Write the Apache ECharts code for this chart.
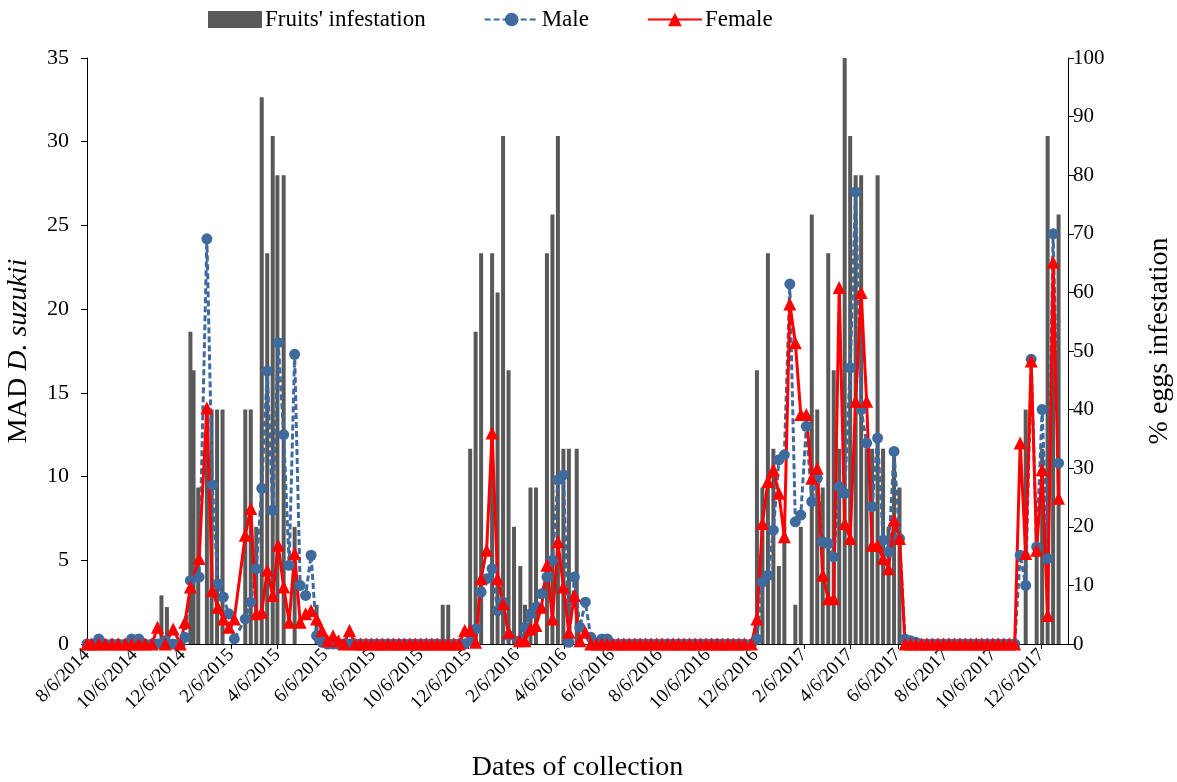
<!DOCTYPE html>
<html>
<head>
<meta charset="utf-8">
<script src="https://cdn.jsdelivr.net/npm/echarts@6/dist/echarts.min.js"></script>
<style>
  html, body { margin: 0; padding: 0; background: #fff; }
  #chart { width: 1177px; height: 782px; }
</style>
</head>
<body>
<div id="chart"></div>
<script>
  // trap collections (MAD = mean adults per trap per day)
  const trapDates = [
    '2014-08-06', '2014-08-12', '2014-08-21', '2014-08-29', '2014-09-07', '2014-09-15', '2014-09-24',
    '2014-10-02', '2014-10-11', '2014-10-19', '2014-10-28', '2014-11-04', '2014-11-14', '2014-11-24',
    '2014-12-03', '2014-12-09', '2014-12-16', '2014-12-27', '2015-01-06', '2015-01-13', '2015-01-20',
    '2015-01-27', '2015-02-03', '2015-02-10', '2015-02-24', '2015-03-03', '2015-03-10', '2015-03-17',
    '2015-03-24', '2015-03-31', '2015-04-07', '2015-04-14', '2015-04-21', '2015-04-28', '2015-05-05',
    '2015-05-12', '2015-05-19', '2015-05-26', '2015-06-02', '2015-06-09', '2015-06-16', '2015-06-23',
    '2015-06-30', '2015-07-07',
    '2015-07-14', '2015-07-21', '2015-07-28', '2015-08-04', '2015-08-11', '2015-08-18', '2015-08-25',
    '2015-09-01', '2015-09-08', '2015-09-15', '2015-09-22', '2015-09-29', '2015-10-06', '2015-10-13',
    '2015-10-20', '2015-10-27', '2015-11-03', '2015-11-10', '2015-11-17', '2015-11-24',
    '2015-12-01', '2015-12-08', '2015-12-15', '2015-12-22', '2015-12-29', '2016-01-05', '2016-01-12',
    '2016-01-19', '2016-01-26', '2016-02-09', '2016-02-16', '2016-02-23', '2016-03-01', '2016-03-08',
    '2016-03-15', '2016-03-22', '2016-03-29', '2016-04-05', '2016-04-12', '2016-04-19', '2016-04-26',
    '2016-05-03', '2016-05-10', '2016-05-17', '2016-05-24', '2016-05-31',
    '2016-06-07', '2016-06-14', '2016-06-21', '2016-06-28', '2016-07-05', '2016-07-12', '2016-07-19',
    '2016-07-26', '2016-08-02', '2016-08-09', '2016-08-16', '2016-08-23', '2016-08-30', '2016-09-06',
    '2016-09-13', '2016-09-20', '2016-09-27', '2016-10-04', '2016-10-11', '2016-10-18', '2016-10-25',
    '2016-11-01', '2016-11-08', '2016-11-15', '2016-11-22',
    '2016-12-01', '2016-12-08', '2016-12-15', '2016-12-22', '2016-12-29', '2017-01-05', '2017-01-12',
    '2017-01-19', '2017-01-26', '2017-02-02', '2017-02-09', '2017-02-16', '2017-02-23', '2017-03-02',
    '2017-03-09', '2017-03-16', '2017-03-23', '2017-03-30', '2017-04-06', '2017-04-13', '2017-04-20',
    '2017-04-27', '2017-05-04', '2017-05-11', '2017-05-18', '2017-05-25', '2017-06-01', '2017-06-08',
    '2017-06-15', '2017-06-22', '2017-06-29',
    '2017-07-06', '2017-07-13', '2017-07-20', '2017-07-27', '2017-08-03', '2017-08-10', '2017-08-17',
    '2017-08-24', '2017-08-31', '2017-09-07', '2017-09-14', '2017-09-21', '2017-09-28', '2017-10-05',
    '2017-10-12', '2017-10-19', '2017-10-26', '2017-11-02',
    '2017-11-09', '2017-11-16', '2017-11-23', '2017-11-30', '2017-12-07', '2017-12-14', '2017-12-21',
    '2017-12-28'
  ]

  const male = [
    0, 0, 0.3, 0, 0, 0, 0,
    0.3, 0.3, 0, 0, 0, 0.2, 0,
    0, 0.4, 3.8, 4.0, 24.2, 9.5, 3.6,
    2.8, 1.8, 0.3, 1.5, 2.5, 4.5, 9.3,
    16.3, 8.0, 18.0, 12.5, 4.7, 17.3, 3.5,
    2.9, 5.3, 0.5, 0.1, 0, 0, 0,
    0, 0,
    0, 0, 0, 0, 0, 0, 0,
    0, 0, 0, 0, 0, 0, 0,
    0, 0, 0, 0, 0, 0,
    0, 0.2, 0.9, 3.1, 3.9, 4.5, 2.0,
    2.5, 0.5, 0.2, 1.0, 1.8, 2.2, 3.0,
    4.0, 5.0, 9.8, 10.1, 0.1, 4.0, 1.0,
    2.5, 0.4, 0, 0.3, 0.3,
    0, 0, 0, 0, 0, 0, 0,
    0, 0, 0, 0, 0, 0, 0,
    0, 0, 0, 0, 0, 0, 0,
    0, 0, 0, 0,
    0, 0.3, 3.7, 4.1, 6.8, 11.0, 11.3,
    21.5, 7.3, 7.7, 13.0, 8.5, 9.9, 6.1,
    6.0, 5.2, 9.4, 9.0, 16.5, 27.0, 14.0,
    12.0, 8.2, 12.3, 6.2, 5.5, 11.5, 6.3,
    0.3, 0.2, 0.1,
    0, 0, 0, 0, 0, 0, 0,
    0, 0, 0, 0, 0, 0, 0,
    0, 0, 0, 0,
    5.3, 3.5, 17.0, 5.8, 14.0, 5.1, 24.5,
    10.8
  ]

  const female = [
    0, 0, 0, 0, 0, 0, 0,
    0, 0, 0, 0, 1.0, 0, 0.9,
    0, 1.3, 3.4, 5.1, 14.1, 3.2, 2.2,
    1.5, 1.0, 1.5, 6.5, 8.1, 1.8, 1.9,
    4.4, 2.9, 5.9, 3.4, 1.3, 5.4, 1.3,
    1.8, 2.0, 1.5, 0.8, 0.2, 0.5, 0.2,
    0, 0.8,
    0, 0, 0, 0, 0, 0, 0,
    0, 0, 0, 0, 0, 0, 0,
    0, 0, 0, 0, 0, 0,
    0.8, 0.8, 0.1, 3.9, 5.6, 12.6, 3.9,
    2.4, 0.7, 0.2, 0.2, 0.9, 1.1, 2.2,
    4.7, 1.5, 6.1, 3.4, 0.7, 2.9, 0.2,
    0.7, 0, 0, 0, 0,
    0, 0, 0, 0, 0, 0, 0,
    0, 0, 0, 0, 0, 0, 0,
    0, 0, 0, 0, 0, 0, 0,
    0, 0, 0, 0,
    0, 1.5, 7.2, 9.7, 10.4, 9.0, 6.4,
    20.3, 18.0, 13.7, 13.7, 9.9, 10.5, 4.1,
    2.7, 2.7, 21.3, 7.2, 6.3, 14.5, 21.0,
    14.5, 5.9, 5.9, 5.1, 4.5, 7.4, 6.3,
    0, 0, 0,
    0, 0, 0, 0, 0, 0, 0,
    0, 0, 0, 0, 0, 0, 0,
    0, 0, 0, 0,
    12.0, 5.4, 16.9, 5.6, 10.4, 1.7, 22.8,
    8.7
  ]

  // fruit samples (% eggs infestation)
  const fruitDates = [
    '2014-11-09', '2014-11-16', '2014-12-16', '2014-12-20', '2014-12-26', '2015-01-06', '2015-01-12',
    '2015-01-19', '2015-01-26', '2015-02-24', '2015-03-03', '2015-03-10', '2015-03-17', '2015-03-24',
    '2015-03-31', '2015-04-06', '2015-04-14', '2015-04-28', '2015-05-26',
    '2015-11-03', '2015-11-10', '2015-12-08', '2015-12-15', '2015-12-22', '2016-01-05', '2016-01-12',
    '2016-01-19', '2016-01-26', '2016-02-02', '2016-02-10', '2016-02-16', '2016-02-23', '2016-03-01',
    '2016-03-15', '2016-03-22', '2016-03-29', '2016-04-05', '2016-04-12', '2016-04-22',
    '2016-12-08', '2016-12-15', '2016-12-22', '2016-12-29', '2017-01-05', '2017-01-12', '2017-01-26',
    '2017-02-02', '2017-02-16', '2017-02-23', '2017-03-02', '2017-03-09', '2017-03-16', '2017-03-23',
    '2017-03-30', '2017-04-06', '2017-04-13', '2017-04-20', '2017-04-27', '2017-05-04', '2017-05-11',
    '2017-05-18', '2017-05-25', '2017-06-01', '2017-06-08',
    '2017-11-16', '2017-11-30', '2017-12-07', '2017-12-14', '2017-12-21', '2017-12-28'
  ]

  const fruitInfestation = [
    8.3, 6.3, 53.3, 46.7, 26.7, 40, 40,
    40, 40, 40, 40, 20, 93.3, 66.7,
    86.7, 80, 80, 20, 6.7,
    6.7, 6.7, 33.3, 53.3, 66.7, 66.7, 60,
    86.7, 46.7, 20, 13.3, 6.7, 26.7, 26.7,
    66.7, 73.3, 86.7, 33.3, 33.3, 33.3,
    46.7, 26.7, 66.7, 33.3, 13.3, 20, 6.7,
    20, 73.3, 40, 26.7, 66.7, 46.7, 33.3,
    100, 86.7, 80, 80, 33.3, 33.3, 80,
    33.3, 20, 33.3, 26.7,
    40, 20, 33.3, 86.7, 60, 73.3
  ]

  const tickLabels = [
    '8/6/2014', '10/6/2014', '12/6/2014', '2/6/2015', '4/6/2015', '6/6/2015', '8/6/2015',
    '10/6/2015', '12/6/2015', '2/6/2016', '4/6/2016', '6/6/2016', '8/6/2016', '10/6/2016',
    '12/6/2016', '2/6/2017', '4/6/2017', '6/6/2017', '8/6/2017', '10/6/2017', '12/6/2017'
  ]

  const font = 'Liberation Serif'

  function isoTime(s) {
    const p = s.split('-').map(Number)
    return new Date(p[0], p[1] - 1, p[2]).getTime()
  }
  function usTime(s) {
    const p = s.split('/').map(Number)
    return new Date(p[2], p[0] - 1, p[1]).getTime()
  }

  const tickValues = tickLabels.map(usTime)

  const chart = echarts.init(document.getElementById('chart'))
  chart.setOption({
    animation: false,
    textStyle: { fontFamily: font, color: '#000' },
    legend: {
      top: 3,
      left: 203,
      itemGap: 58,
      itemWidth: 54,
      itemHeight: 17,
      textStyle: { fontFamily: font, fontSize: 23, color: '#000', padding: [0, 0, 0, -2] },
      data: [
        { name: "Fruits' infestation", icon: 'rect' },
        { name: 'Male' },
        { name: 'Female' }
      ]
    },
    grid: {
      left: 87,
      right: 109,
      top: 58,
      bottom: 138,
      outerBoundsMode: 'none'
    },
    xAxis: {
      type: 'value',
      min: isoTime('2014-08-06'),
      max: isoTime('2018-01-09'),
      name: 'Dates of collection',
      nameLocation: 'middle',
      nameGap: 110,
      nameTextStyle: { fontFamily: font, fontSize: 28, color: '#000' },
      axisLine: { show: true, onZero: false, lineStyle: { color: '#000', width: 1 } },
      axisTick: {
        show: true,
        customValues: tickValues,
        length: 5,
        lineStyle: { color: '#000' }
      },
      axisLabel: {
        customValues: tickValues,
        rotate: 45,
        margin: 8,
        fontFamily: font,
        fontSize: 19,
        color: '#000',
        formatter: v => tickLabels[tickValues.indexOf(v)] || ''
      },
      splitLine: { show: false }
    },
    yAxis: [
      {
        type: 'value',
        position: 'left',
        min: 0,
        max: 35,
        interval: 5,
        name: '{a|MAD }{b|D. suzukii}',
        nameLocation: 'middle',
        nameGap: 54,
        nameTextStyle: {
          fontFamily: font,
          fontSize: 28,
          color: '#000',
          rich: {
            a: { fontFamily: font, fontSize: 28, color: '#000' },
            b: { fontFamily: font, fontSize: 28, color: '#000', fontStyle: 'italic' }
          }
        },
        axisLine: { show: true, lineStyle: { color: '#000', width: 1 } },
        axisTick: { show: true, length: 6, lineStyle: { color: '#000' } },
        axisLabel: { fontFamily: font, fontSize: 22, color: '#000', margin: 18 },
        splitLine: { show: false }
      },
      {
        type: 'value',
        position: 'right',
        min: 0,
        max: 100,
        interval: 10,
        name: '% eggs infestation',
        nameLocation: 'middle',
        nameGap: 78,
        nameTextStyle: { fontFamily: font, fontSize: 28, color: '#000', padding: [0, 0, 0, 20] },
        axisLine: { show: true, lineStyle: { color: '#000', width: 1 } },
        axisTick: { show: true, length: 6, lineStyle: { color: '#000' } },
        axisLabel: { fontFamily: font, fontSize: 21, color: '#000', margin: 5 },
        splitLine: { show: false }
      }
    ],
    series: [
      {
        name: "Fruits' infestation",
        type: 'bar',
        yAxisIndex: 1,
        barWidth: 4,
        itemStyle: { color: '#595959' },
        data: fruitDates.map((d, i) => [isoTime(d), fruitInfestation[i]])
      },
      {
        name: 'Male',
        type: 'line',
        yAxisIndex: 0,
        symbol: 'circle',
        symbolSize: 11,
        itemStyle: { color: '#3E6A9E' },
        lineStyle: { color: '#3E6A9E', width: 3, type: [6, 3] },
        data: trapDates.map((d, i) => [isoTime(d), male[i]])
      },
      {
        name: 'Female',
        type: 'line',
        yAxisIndex: 0,
        symbol: 'triangle',
        symbolSize: 13,
        itemStyle: { color: '#FF0000' },
        lineStyle: { color: '#FF0000', width: 3 },
        data: trapDates.map((d, i) => [isoTime(d), female[i]])
      }
    ]
  })
</script>
</body>
</html>
